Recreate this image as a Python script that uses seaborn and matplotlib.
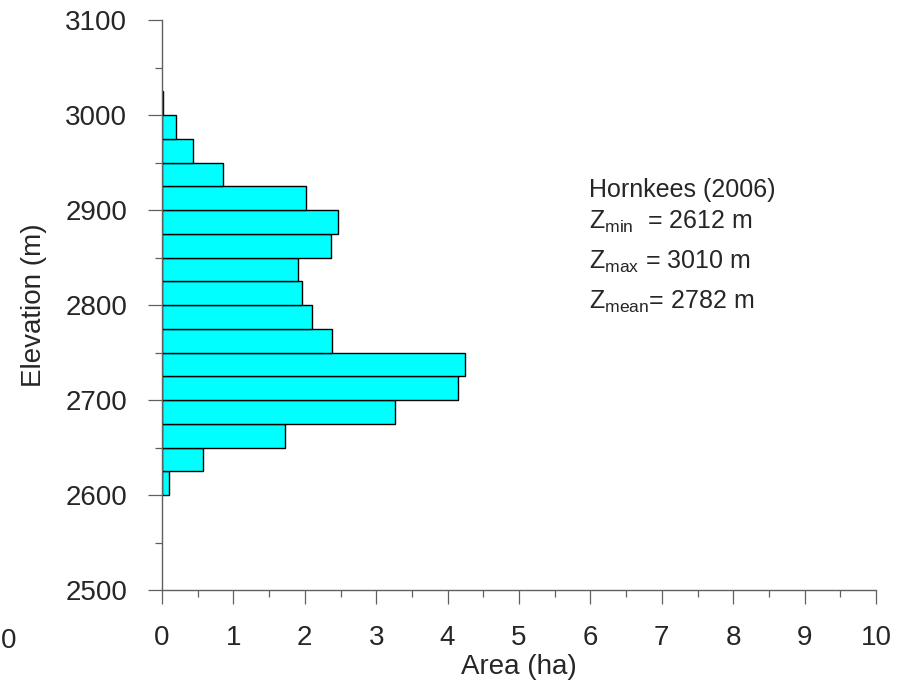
import numpy as np
import pandas as pd
import matplotlib
matplotlib.use("Agg")
import matplotlib.pyplot as plt
from matplotlib.ticker import MultipleLocator
import seaborn as sns

# 25 m elevation bands (lower edge) and glacier area per band
band_lower = [2600, 2625, 2650, 2675, 2700, 2725, 2750, 2775, 2800,
              2825, 2850, 2875, 2900, 2925, 2950, 2975, 3000]
area_ha = [0.10, 0.58, 1.72, 3.26, 4.15, 4.24, 2.38, 2.10, 1.96,
           1.91, 2.36, 2.46, 2.01, 0.86, 0.43, 0.20, 0.01]

stats_lines = [r"Hornkees (2006)",
               r"Z$_{\mathrm{min}}$  = 2612 m",
               r"Z$_{\mathrm{max}}$ = 3010 m",
               r"Z$_{\mathrm{mean}}$= 2782 m"]

df = pd.DataFrame({"elev": np.array(band_lower) + 12.5, "area": area_ha})

sns.set_style("ticks")
plt.rcParams["font.family"] = ["Liberation Sans", "DejaVu Sans"]
plt.rcParams["mathtext.fontset"] = "custom"
plt.rcParams["mathtext.rm"] = "Liberation Sans"
plt.rcParams["mathtext.it"] = "Liberation Sans:italic"

fig = plt.figure(figsize=(9.11, 6.90), dpi=100)
ax = fig.add_axes([162 / 911, 1 - 590 / 690, 714 / 911, 570 / 690])

sns.histplot(data=df, y="elev", weights="area",
             binwidth=25, binrange=(2600, 3025), color="#00FFFF",
             edgecolor="black", linewidth=1.0, alpha=1, ax=ax)

ax.set_xlim(0, 10)
ax.set_ylim(2500, 3100)
ax.xaxis.set_major_locator(MultipleLocator(1))
ax.xaxis.set_minor_locator(MultipleLocator(0.5))
ax.yaxis.set_major_locator(MultipleLocator(100))
ax.yaxis.set_minor_locator(MultipleLocator(50))

for side in ["top", "right"]:
    ax.spines[side].set_visible(False)
for side in ["left", "bottom"]:
    ax.spines[side].set_color("#606060")
    ax.spines[side].set_linewidth(1.0)

ax.tick_params(which="major", length=10, width=0.9, color="#606060",
               labelsize=20, pad=15, direction="out")
ax.tick_params(which="minor", length=5, width=0.9, color="#606060",
               direction="out")

ax.set_xlabel("Area (ha)", fontsize=20, labelpad=2)
ax.set_ylabel("Elevation (m)", fontsize=20, labelpad=13.5)

# annotation block
baselines = [197, 229, 269, 309]
for line, yb in zip(stats_lines, baselines):
    fig.text(589 / 911, 1 - yb / 690, line, fontsize=18,
             ha="left", va="baseline")

# stray label at the far left edge of the original figure
fig.text(1 / 911, 1 - 648 / 690, "0", fontsize=20, ha="left", va="baseline")

fig.savefig("out.png", dpi=100)
